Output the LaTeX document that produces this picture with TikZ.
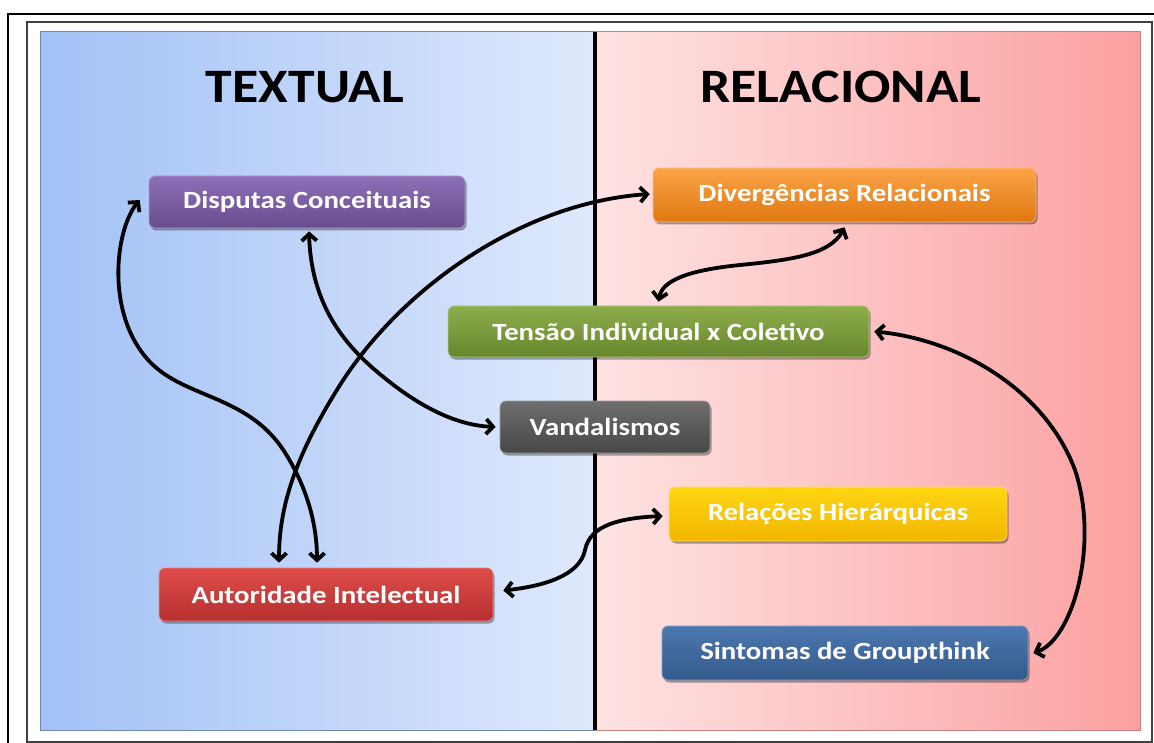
\documentclass[tikz,border=0pt]{standalone}
\usepackage{fontspec}
\setmainfont{Carlito}
\usetikzlibrary{arrows.meta,shadows}
\definecolor{bluL}{HTML}{A2C1F6}
\definecolor{bluR}{HTML}{DFE9FC}
\definecolor{pinL}{HTML}{FFE3E3}
\definecolor{pinR}{HTML}{FBA0A0}
\definecolor{purT}{HTML}{8D6FB8}
\definecolor{purB}{HTML}{694C8E}
\definecolor{oraT}{HTML}{FBA448}
\definecolor{oraB}{HTML}{E07810}
\definecolor{greT}{HTML}{8DAD4B}
\definecolor{greB}{HTML}{68872E}
\definecolor{graT}{HTML}{6E6E6E}
\definecolor{graB}{HTML}{474747}
\definecolor{yelT}{HTML}{FFD612}
\definecolor{yelB}{HTML}{F2B600}
\definecolor{redT}{HTML}{DF4C4A}
\definecolor{redB}{HTML}{B53030}
\definecolor{sblT}{HTML}{4C78B0}
\definecolor{sblB}{HTML}{345A8B}
\newcommand{\boxtxt}[1]{\scalebox{1.2}[1.03]{#1}}
\newcommand{\ttltxt}[1]{\scalebox{1.12}[1]{#1}}
\tikzset{
  colbox/.style 2 args={rounded corners=6pt, inner sep=0pt, top color=#1, bottom color=#2,
    draw=#1!70!white, line width=0.6pt, text=white,
    font=\bfseries\fontsize{24}{28}\selectfont,
    drop shadow={shadow xshift=1.5pt,shadow yshift=-2.5pt,opacity=0.35,fill=black}},
  conn/.style={line width=3.8pt, line cap=round, line join=round,
    {Straight Barb[length=7pt,width=15pt]}-{Straight Barb[length=7pt,width=15pt]}},
  title/.style={font=\bfseries\fontsize{48}{54}\selectfont, text=black, inner sep=0pt}
}
\begin{document}
\begin{tikzpicture}[x=1pt,y=-1pt]
\useasboundingbox (0,0) rectangle (1154,743);
\fill[white] (0,0) rectangle (1154,743);
% frames
\draw[line width=2.6pt] (8,14) rectangle (1170,760);
\draw[line width=1.1pt, black!75] (27,22) rectangle (1152,742);
% panels
\shade[left color=bluL, right color=bluR] (40,32) rectangle (595,730);
\shade[left color=pinL, right color=pinR] (595,32) rectangle (1140,730);
\draw[line width=1pt, bluL!70!black] (40,32) rectangle (595,730);
\draw[line width=1pt, pinR!80!black] (595,32) rectangle (1140,730);
\draw[line width=3.2pt, black] (595,32) -- (595,730);
% titles
\node[title] (tt) at (305,87) {\ttltxt{TEXTUAL}};
\node[title] (tr) at (841,87) {\ttltxt{RELACIONAL}};
% boxes
\node[colbox={purT}{purB}, minimum width=316pt, minimum height=52pt] (dc) at (307,202) {\boxtxt{Disputas Conceituais}};
\node[colbox={oraT}{oraB}, minimum width=383pt, minimum height=54pt] (dr) at (844.5,195) {\boxtxt{Divergências Relacionais}};
\node[colbox={greT}{greB}, minimum width=421pt, minimum height=51pt] (ti) at (658.5,331.5) {\boxtxt{Tensão Individual x Coletivo}};
\node[colbox={graT}{graB}, minimum width=210pt, minimum height=52pt] (va) at (605,427) {\boxtxt{Vandalismos}};
\node[colbox={yelT}{yelB}, minimum width=338pt, minimum height=54pt] (rh) at (838,514) {\boxtxt{Relações Hierárquicas}};
\node[colbox={redT}{redB}, minimum width=334pt, minimum height=53pt] (ai) at (326,594.5) {\boxtxt{Autoridade Intelectual}};
\node[colbox={sblT}{sblB}, minimum width=366pt, minimum height=54pt] (sg) at (845,653) {\boxtxt{Sintomas de Groupthink}};
% connector end points
\coordinate (dcw) at ([xshift=-9pt,yshift=2pt]dc.west);
\coordinate (dcs) at ([xshift=2pt,yshift=-3pt]dc.south);
\coordinate (aia) at ([xshift=-47pt,yshift=5pt]ai.north);
\coordinate (aib) at ([xshift=-9pt,yshift=5pt]ai.north);
\coordinate (aie) at ([xshift=10pt,yshift=4pt]ai.east);
\coordinate (vaw) at ([xshift=-4pt]va.west);
\coordinate (drw) at ([xshift=-3pt,yshift=1pt]dr.west);
\coordinate (drs) at ([yshift=-5pt]dr.south);
\coordinate (tin) at ([yshift=4pt]ti.north);
\coordinate (tie) at ([xshift=5pt]ti.east);
\coordinate (rhw) at ([xshift=-6pt,yshift=-2pt]rh.west);
\coordinate (sge) at ([xshift=5pt]sg.east);
% connectors
\draw[conn] (dcw) .. controls (115,230) and (105,315) .. (150,362)
  .. controls (185,398) and (245,395) .. (282,448)
  .. controls (310,490) and (317,530) .. (aib);
\draw[conn] (dcs) .. controls (311,300) and (340,340) .. (375,370)
  .. controls (410,400) and (450,425) .. (vaw);
\draw[conn] (drw) .. controls (520,203) and (400,290) .. (340,385)
  .. controls (296,455) and (279,505) .. (aia);
\draw[conn] (drs) .. controls (830,255) and (790,260) .. (740,265)
  .. controls (690,270) and (662,280) .. (tin);
\draw[conn] (tie) .. controls (960,340) and (1045,390) .. (1075,470)
  .. controls (1100,545) and (1072,640) .. (sge);
\draw[conn] (aie) .. controls (545,586) and (580,575) .. (585,550)
  .. controls (590,525) and (620,518) .. (rhw);
\end{tikzpicture}
\end{document}
